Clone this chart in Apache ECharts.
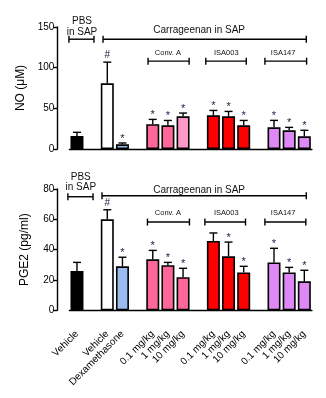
<!DOCTYPE html>
<html><head><meta charset="utf-8">
<script src="https://cdn.jsdelivr.net/npm/echarts@6/dist/echarts.min.js"></script>
<style>html,body{margin:0;padding:0;background:#fff}#c{width:326px;height:398px}</style>
</head><body><div id="c"></div>
<script>
// ---- data ----
const categories = ['Vehicle','','Vehicle','Dexamethasone','','0.1 mg/kg','1 mg/kg','10 mg/kg','','0.1 mg/kg','1 mg/kg','10 mg/kg','','0.1 mg/kg','1 mg/kg','10 mg/kg'];
const noMean  = [16, null, 80.8, 5.8, null, 30.4, 29.1, 40.2, null, 41.4, 40.2, 29.1, null, 26.7, 23, 15.6];
const noSem   = [4.5, null, 26, 1.6, null, 6, 6, 4, null, 6, 6, 6, null, 8.5, 3.6, 7.4];
const noMarks = ['', '', '#', '*', '', '*', '*', '*', '', '*', '*', '*', '', '*', '*', '*'];
const pgeMean  = [25.9, null, 60, 29, null, 33.6, 29.7, 21.8, null, 45.7, 35.6, 25, null, 31.6, 25, 19.1];
const pgeSem   = [5.7, null, 6.3, 6, null, 5.9, 1.9, 5.9, null, 5.3, 9.4, 4, null, 9.3, 3.3, 7.3];
const pgeMarks = ['', '', '#', '*', '', '*', '*', '*', '', '', '*', '*', '', '*', '*', '*'];
const noTicks = [0, 50, 100, 150];
const pgeTicks = [0, 20, 40, 60, 80];

// ---- styles ----
const BLACK='#000', WHITE='#ffffff', BLUE='#99bbf0', PINK='#ff6699', LPINK='#ff99cc', RED='#ff0000', VIO='#dd88f4';
const noColors  = [BLACK,null,WHITE,BLUE,null,PINK,PINK,LPINK,null,RED,RED,RED,null,VIO,VIO,VIO];
const pgeColors = [BLACK,null,WHITE,BLUE,null,PINK,PINK,PINK,null,RED,RED,RED,null,VIO,VIO,VIO];
const FONT = '"Liberation Sans", Arial, sans-serif';

// annotations: [slotStart, slotEnd, y]  /  [text, slotCenter, y, size]
const noBrackets  = [[-0.53,1.12,135],[1.72,15.13,135],[4.69,7.4,108],[8.5,11.17,108],[12.4,15.15,108]];
const noTexts     = [['PBS',0.33,157,10],['in SAP',0.33,144,10],['Carrageenan in SAP',8.06,146,10],['Conv. A',6.0,118,7.5],['ISA003',9.85,118,7.5],['ISA147',13.6,118,7.5]];
const pgeBrackets = [[-0.6,1.06,74.9],[1.65,15.13,75.5],[4.65,7.42,58.2],[8.44,11.12,58.2],[12.4,15.1,58.2]];
const pgeTexts    = [['PBS',0.25,87.9,10],['in SAP',0.25,81.3,10],['Carrageenan in SAP',8.06,79.3,10],['Conv. A',6.0,64.1,7.5],['ISA003',9.85,64.1,7.5],['ISA147',13.6,64.1,7.5]];

function barSeries(idx, mean, colors){
  return {type:'bar', xAxisIndex:idx, yAxisIndex:idx, barWidth:13, z:2,
    data: mean.map((v,i)=> v==null ? '-' : {value:v, itemStyle:{color:colors[i]}}),
    itemStyle:{borderColor:'#000', borderWidth:1.6}, silent:true, animation:false};
}
function errSeries(idx, mean, sem, marks){
  const data=[]; mean.forEach((m,i)=>{ if(m!=null) data.push([i,m,sem[i]]); });
  return {type:'custom', xAxisIndex:idx, yAxisIndex:idx, silent:true, clip:false, z:4, animation:false,
    data, encode:{x:0,y:1},
    renderItem(p, api){
      const i=api.value(0), m=api.value(1), s=api.value(2);
      const a=api.coord([i,m]), b=api.coord([i,m+s]);
      const ch=[
        {type:'line', shape:{x1:a[0],y1:a[1],x2:b[0],y2:b[1]}, style:{stroke:'#000',lineWidth:1.4}},
        {type:'line', shape:{x1:b[0]-4,y1:b[1],x2:b[0]+4,y2:b[1]}, style:{stroke:'#000',lineWidth:1.4}}
      ];
      const mk=marks[i];
      if(mk){
        ch.push({type:'text', x:b[0], y: mk==='*' ? b[1]+1 : b[1]-2, style:{text:mk, fill:'#22224a', font: (mk==='*'?'11px ':'10px ')+FONT, align:'center', verticalAlign:'bottom'}});
      }
      return {type:'group', children:ch};
    }};
}
function bracketSeries(idx, br){
  return {type:'custom', xAxisIndex:idx, yAxisIndex:idx, silent:true, clip:false, z:5, animation:false,
    data: br.map(b=>[0,b[0],b[1],b[2]]), encode:{x:0,y:3},
    renderItem(p, api){
      const s0=api.value(1), s1=api.value(2), y=api.value(3);
      const c=api.coord([0,y]); const w=api.size([1,0])[0];
      const xa=c[0]+s0*w, xb=c[0]+s1*w, yy=c[1];
      const st={stroke:'#000',lineWidth:1.4};
      return {type:'group', children:[
        {type:'line', shape:{x1:xa,y1:yy,x2:xb,y2:yy}, style:st},
        {type:'line', shape:{x1:xa,y1:yy-3.5,x2:xa,y2:yy+3.5}, style:st},
        {type:'line', shape:{x1:xb,y1:yy-3.5,x2:xb,y2:yy+3.5}, style:st}
      ]};
    }};
}
function textSeries(idx, tx){
  return {type:'custom', xAxisIndex:idx, yAxisIndex:idx, silent:true, clip:false, z:5, animation:false,
    data: tx.map(t=>[0,t[1],t[2]]), encode:{x:0,y:2},
    renderItem(p, api){
      const t=tx[p.dataIndex];
      const c=api.coord([0,api.value(2)]); const w=api.size([1,0])[0];
      return {type:'text', x:c[0]+api.value(1)*w, y:c[1], style:{text:t[0], fill:'#111', font:t[3]+'px '+FONT, align:'center', verticalAlign:'middle'}};
    }};
}

const chart = echarts.init(document.getElementById('c'), null, {renderer:'canvas'});
const yBase = {type:'value', min:0, offset:12,
  axisLine:{show:true, lineStyle:{color:'#000', width:1.4}},
  axisTick:{show:true, inside:false, length:4, lineStyle:{color:'#000', width:1.4}},
  axisLabel:{fontSize:10, color:'#000', margin:3, fontFamily:FONT},
  splitLine:{show:false}, nameLocation:'middle', nameGap:27, nameRotate:90,
  nameTextStyle:{fontSize:12, color:'#000', fontFamily:FONT}};
const xBase = {type:'category', data:categories, offset:13,
  axisLine:{show:true, lineStyle:{color:'#000', width:1.4}}, axisTick:{show:false}, splitLine:{show:false}};

chart.setOption({
  animation:false,
  grid:[{left:69.4, width:242.5, top:27, height:122},{left:69.4, width:242.5, top:189, height:121.3}],
  xAxis:[
    Object.assign({}, xBase, {gridIndex:0, axisLabel:{show:false}}),
    Object.assign({}, xBase, {gridIndex:1, axisLabel:{show:true, rotate:45, interval:0, fontSize:10, color:'#000', margin:9, fontFamily:FONT}})
  ],
  yAxis:[
    Object.assign({}, yBase, {gridIndex:0, max:noTicks[noTicks.length-1], interval:noTicks[1]-noTicks[0], name:'NO (μM)'}),
    Object.assign({}, yBase, {gridIndex:1, max:pgeTicks[pgeTicks.length-1], interval:pgeTicks[1]-pgeTicks[0], name:'PGE2 (pg/ml)'})
  ],
  series:[
    barSeries(0, noMean, noColors), errSeries(0, noMean, noSem, noMarks), bracketSeries(0, noBrackets), textSeries(0, noTexts),
    barSeries(1, pgeMean, pgeColors), errSeries(1, pgeMean, pgeSem, pgeMarks), bracketSeries(1, pgeBrackets), textSeries(1, pgeTexts)
  ]
});
</script></body></html>
